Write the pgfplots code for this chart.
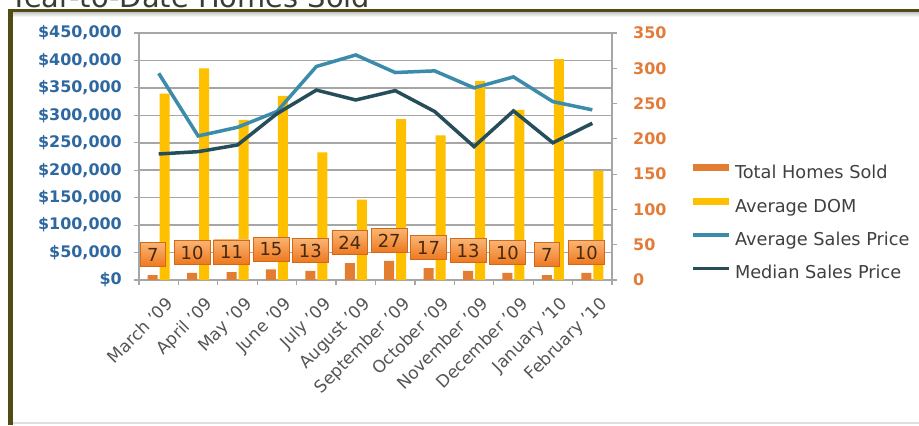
\documentclass[border=0pt]{standalone}
\usepackage{fontspec}
\setmainfont{DejaVu Sans}
\usepackage{pgfplots}
\usepackage{pgfplotstable}
\pgfplotsset{compat=1.18}

\definecolor{frameolive}{RGB}{80,76,20}
\definecolor{titlec}{RGB}{60,60,50}
\definecolor{homes}{RGB}{226,125,50}
\definecolor{dom}{RGB}{255,192,0}
\definecolor{avgc}{RGB}{58,140,170}
\definecolor{medc}{RGB}{38,78,90}
\definecolor{leftc}{RGB}{46,104,160}
\definecolor{rightc}{RGB}{226,124,56}
\definecolor{gridc}{RGB}{166,166,166}
\definecolor{xlab}{RGB}{85,85,85}
\definecolor{labtop}{RGB}{250,180,115}
\definecolor{labbot}{RGB}{238,120,30}
\definecolor{labborder}{RGB}{210,105,25}
\definecolor{labtext}{RGB}{70,40,15}

\pgfplotstableread{
x homes dom avg med
0 7 264 376600 229600
1 10 300 262400 233800
2 11 227 278200 246000
3 15 261 307000 303000
4 13 181 389000 346000
5 24 114 410000 328000
6 27 228 378000 345000
7 17 205 381000 307000
8 13 282 350000 243000
9 10 241 370000 308000
10 7 313 325000 250000
11 10 155 310000 285500
}\data

\begin{document}
\begin{tikzpicture}[x=1bp,y=1bp]
\clip (0,0) rectangle (919,425);
\fill[white] (0,0) rectangle (919,425);
\node[anchor=base west, inner sep=0, font=\fontsize{29}{30}\selectfont, text=titlec] at (10,417.5) {Year-to-Date Homes Sold};
\fill[white] (12.7,0) rectangle (919,413);
\shade[top color=gray!45, bottom color=white] (12.7,408) rectangle (919,413);
\fill[frameolive] (8.3,0) rectangle (12.7,415.7);
\fill[frameolive] (8.3,413) rectangle (919,415.7);
\fill[gray!25] (12.7,1.5) rectangle (919,3);

% grid + left axis
\begin{axis}[
  at={(139bp,145bp)}, anchor=south west, scale only axis,
  width=473bp, height=247bp,
  xmin=-0.5, xmax=11.5, ymin=0, ymax=450000,
  scaled y ticks=false,
  xtick={-0.5,0.5,...,11.5}, xticklabels={},
  ytick={0,50000,...,450000},
  yticklabels={{\$0},{\$50,000},{\$100,000},{\$150,000},{\$200,000},{\$250,000},{\$300,000},{\$350,000},{\$400,000},{\$450,000}},
  ymajorgrids, grid style={gridc, line width=1.5bp},
  axis line style={gridc, line width=1.5bp},
  tick style={gridc, line width=1.2bp},
  tick align=outside, xtick pos=bottom, ytick pos=left,
  major tick length=5bp,
  yticklabel style={font=\fontsize{16}{18}\selectfont\bfseries, text=leftc, inner sep=0, xshift=-12bp},
]
\end{axis}

% bars + right axis
\begin{axis}[
  at={(139bp,145bp)}, anchor=south west, scale only axis,
  width=473bp, height=247bp,
  xmin=-0.5, xmax=11.5, ymin=0, ymax=350,
  axis line style={draw=none},
  ytick={0,50,...,350},
  yticklabels={0,50,100,150,200,250,300,350},
  ytick pos=right, yticklabel pos=right,
  tick align=outside, major tick length=5bp,
  y tick style={gridc, line width=1.2bp},
  xtick={0,...,11},
  xticklabels={March '09,April '09,May '09,June '09,July '09,August '09,September '09,October '09,November '09,December '09,January '10,February '10},
  x tick style={draw=none},
  xticklabel style={rotate=45, anchor=north east, font=\fontsize{17}{18}\selectfont, text=xlab, inner sep=0, yshift=-12bp, xshift=-3bp},
  yticklabel style={font=\fontsize{16}{18}\selectfont\bfseries, text=rightc, inner sep=0, xshift=16bp},
  /pgf/number format/assume math mode=true,
]
\addplot[ybar, bar width=10bp, bar shift=-6bp, fill=homes, draw=none,
  nodes near coords,
  nodes near coords style={anchor=south, yshift=8bp, xshift=-6bp, draw=labborder, line width=0.6bp,
    top color=labtop, bottom color=labbot, text=labtext,
    font=\fontsize{18}{19}\selectfont, inner xsep=6.5bp, inner ysep=5.5bp,
    text height=13bp, text depth=0bp}]
  table[x=x,y=homes]{\data};
\addplot[ybar, bar width=10bp, bar shift=6bp, fill=dom, draw=none]
  table[x=x,y=dom]{\data};
\end{axis}

% lines + legend
\begin{axis}[
  at={(139bp,145bp)}, anchor=south west, scale only axis,
  width=473bp, height=247bp,
  xmin=-0.5, xmax=11.5, ymin=0, ymax=450000,
  hide axis,
  legend style={at={(1.1628,0.4696)}, anchor=north west, draw=none, fill=none,
    inner sep=0, outer sep=0, font=\fontsize{17.8}{19}\selectfont, text=black!75,
    row sep=16.3bp,
    nodes={inner sep=0, text height=13bp, text depth=4bp},
    /tikz/every odd column/.append style={column sep=3bp}},
  legend cell align=left,
  legend image code/.code={\draw[#1] (0bp,6bp) -- (36bp,6bp);},
]
\addlegendimage{homes, line width=7bp}
\addlegendimage{dom, line width=7bp}
\addplot[avgc, line width=3.5bp] table[x=x,y=avg]{\data};
\addplot[medc, line width=3.5bp] table[x=x,y=med]{\data};
\legend{Total Homes Sold, Average DOM, Average Sales Price, Median Sales Price}
\end{axis}
\end{tikzpicture}
\end{document}
